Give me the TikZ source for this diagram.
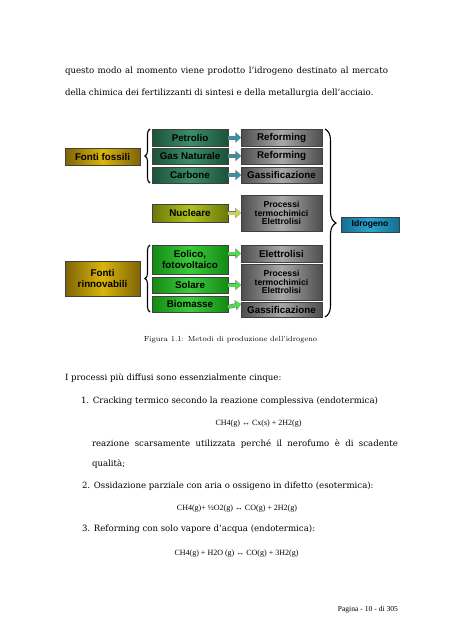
\documentclass[tikz,border=0pt]{standalone}
\usepackage{fontspec}
\newfontfamily\bookfont{DejaVu Serif}
\newfontfamily\arialfont{Liberation Sans}
\newfontfamily\timesfont{Liberation Serif}
\usetikzlibrary{arrows.meta,decorations.pathreplacing}
\definecolor{fonteedge}{HTML}{7F6405}
\definecolor{fontemid}{HTML}{D9B50C}
\definecolor{fossiledge}{HTML}{1B5238}
\definecolor{fossilmid}{HTML}{3C8E6A}
\definecolor{nucledge}{HTML}{6A7808}
\definecolor{nuclmid}{HTML}{B4C21E}
\definecolor{rinnedge}{HTML}{138A13}
\definecolor{rinnmid}{HTML}{3CCB3C}
\definecolor{procedge}{HTML}{4E4E4E}
\definecolor{procmid}{HTML}{A8A8A8}
\definecolor{idroedge}{HTML}{136E92}
\definecolor{idromid}{HTML}{2EA4D0}
\definecolor{fossilarr}{HTML}{3A92A0}
\definecolor{nuclarr}{HTML}{C8D25A}
\definecolor{rinnarr}{HTML}{4EDC4E}

\begin{document}
\begin{tikzpicture}[
  x=1pt, y=-1pt,
  every node/.style = {inner sep=0pt, outer sep=0pt},
  box/.style = {draw=black!75, line width=0.5pt, align=center,
    font=\arialfont\bfseries\fontsize{9.8}{11}\selectfont},
  fonte/.style = {box, minimum width=75pt, left color=fonteedge, right color=fonteedge, middle color=fontemid},
  src/.style = {box, minimum width=76pt, left color=#1edge, right color=#1edge, middle color=#1mid},
  proc/.style = {box, minimum width=81pt, left color=procedge, right color=procedge, middle color=procmid},
  txt/.style = {anchor=base west, font=\bookfont\fontsize{8.6}{10}\selectfont},
  eq/.style = {anchor=base, font=\timesfont\fontsize{8}{10}\selectfont}
  ]
  \fill[white] (0,0) rectangle (452,640);
  \useasboundingbox (0,0) rectangle (452,640);

  % text above the figure
  \node[txt] (l1) at (65,73) {\makebox[323pt][s]{questo modo al momento viene prodotto l’idrogeno destinato al mercato}};
  \node[txt] (l2) at (65,95) {della chimica dei fertilizzanti di sintesi e della metallurgia dell’acciaio.};

  % sources
  \node[fonte, minimum height=17pt] (fossili) at (102.5,156.5) {Fonti fossili};
  \node[fonte, minimum height=35pt] (rinnov) at (102.5,278.5) {Fonti\\rinnovabili};

  \node[src=fossil, minimum height=17pt] (petrolio) at (190,137.5) {Petrolio};
  \node[src=fossil, minimum height=16pt] (gas) at (190,156) {Gas Naturale};
  \node[src=fossil, minimum height=16pt] (carbone) at (190,175) {Carbone};
  \node[src=nucl, minimum height=18pt] (nucleare) at (190,213) {Nucleare};
  \node[src=rinn, minimum height=29pt] (eolico) at (190,259.5) {Eolico,\\fotovoltaico};
  \node[src=rinn, minimum height=16pt] (solare) at (190,285) {Solare};
  \node[src=rinn, minimum height=16pt] (biomasse) at (190,304) {Biomasse};

  % processes
  \node[proc, minimum height=17pt] (ref1) at (281.5,137.5) {Reforming};
  \node[proc, minimum height=16pt] (ref2) at (281.5,156) {Reforming};
  \node[proc, minimum height=16pt] (gass1) at (281.5,175) {Gassificazione};
  \node[proc, minimum height=36pt, font=\arialfont\bfseries\fontsize{8.6}{8.4}\selectfont] (proc1) at (281.5,213) {Processi\\termochimici\\Elettrolisi};
  \node[proc, minimum height=17pt] (elettr) at (281.5,253.5) {Elettrolisi};
  \node[proc, minimum height=36pt, font=\arialfont\bfseries\fontsize{8.6}{8.4}\selectfont] (proc2) at (281.5,282) {Processi\\termochimici\\Elettrolisi};
  \node[proc, minimum height=15pt] (gass2) at (281.5,309.5) {Gassificazione};

  \node[box, minimum width=58pt, minimum height=15pt, left color=idroedge, right color=idroedge, middle color=idromid,
    font=\arialfont\bfseries\fontsize{8.6}{10}\selectfont] (idrogeno) at (370,224.5) {Idrogeno};

  \tikzset{farrow/.style = {line width=3pt, draw=#1, -{Triangle[length=5pt, width=8.5pt]},
    preaction={draw=black!55, line width=4pt, -{Triangle[length=5.6pt, width=10pt]}}}}
  \tikzset{brc/.style = {decorate, decoration={brace, amplitude=#1}, line width=1.1pt}}

  \draw[farrow=fossilarr] (petrolio) -- (ref1);
  \draw[farrow=fossilarr] (gas) -- (ref2);
  \draw[farrow=fossilarr] (carbone) -- (gass1);
  \draw[farrow=nuclarr] (nucleare) -- (proc1);
  \draw[farrow=rinnarr] (eolico.east |- elettr.west) -- (elettr);
  \draw[farrow=rinnarr] (solare) -- (solare.east -| proc2.west);
  \draw[farrow=rinnarr] (biomasse.east |- 0,307) -- (biomasse.east -| gass2.west);

  \draw[brc=5pt] ([xshift=-2pt]carbone.south west) -- ([xshift=-2pt]petrolio.north west);
  \draw[brc=5pt] ([xshift=-2pt]biomasse.south west) -- ([xshift=-2pt]eolico.north west);
  \draw[brc=11pt] ([xshift=3pt]ref1.north east) -- ([xshift=3pt]gass2.south east);

  % caption and text below
  \node[anchor=base, font=\fontsize{7.4}{9}\selectfont] (cap) at (230.5,341.5) {Figura 1.1: Metodi di produzione dell’idrogeno};

  \node[txt] (l3) at (65,380) {I processi più diffusi sono essenzialmente cinque:};
  \node[txt] (l4) at (81,403) {1. Cracking termico secondo la reazione complessiva (endotermica)};
  \node[eq] (eq1) at (258.5,425) {CH4(g) ↔ Cx(s) + 2H2(g)};
  \node[txt] (l5) at (92,446) {\makebox[306pt][s]{reazione scarsamente utilizzata perché il nerofumo è di scadente}};
  \node[txt] (l6) at (92,466) {qualità;};
  \node[txt] (l7) at (82,488) {2. Ossidazione parziale con aria o ossigeno in difetto (esotermica):};
  \node[eq] (eq2) at (237,510) {CH4(g)+ ½O2(g) ↔ CO(g) + 2H2(g)};
  \node[txt] (l8) at (82,531) {3. Reforming con solo vapore d’acqua (endotermica):};
  \node[eq] (eq3) at (236.5,555) {CH4(g) + H2O (g) ↔ CO(g) + 3H2(g)};

  \node[anchor=base east, font=\timesfont\fontsize{7.6}{9}\selectfont] (pag) at (398,611) {Pagina - 10 - di 305};
\end{tikzpicture}
\end{document}
